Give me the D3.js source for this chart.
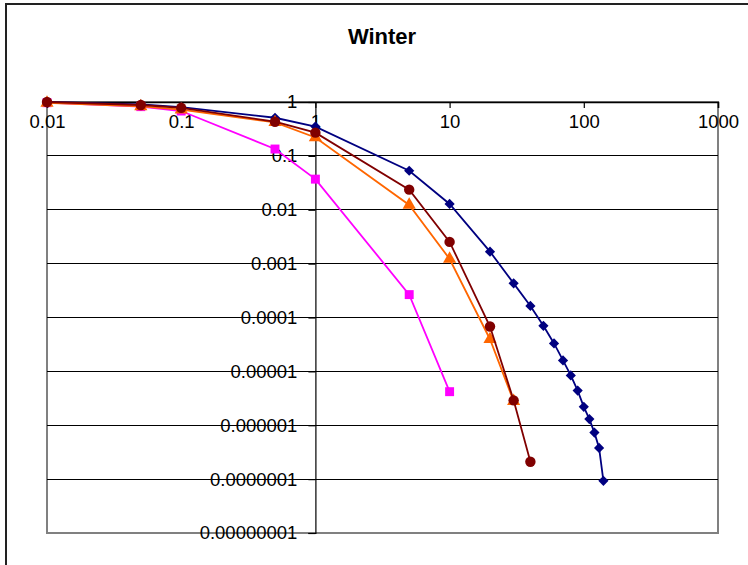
<!DOCTYPE html>
<html><head><meta charset="utf-8">
<script src="https://cdn.jsdelivr.net/npm/d3@7"></script>
<style>html,body{margin:0;padding:0;background:#fff;}svg{display:block;font-family:"Liberation Sans",Arial,sans-serif;}</style>
</head><body>
<svg id="c" width="748" height="565"></svg>
<script>
const title = "Winter";
const xTicks = [0.01, 0.1, 1, 10, 100, 1000];
const xTickLabels = ["0.01", "0.1", "1", "10", "100", "1000"];
const yTicks = [1, 0.1, 0.01, 0.001, 0.0001, 0.00001, 0.000001, 0.0000001, 0.00000001];
const yTickLabels = ["1", "0.1", "0.01", "0.001", "0.0001", "0.00001", "0.000001", "0.0000001", "0.00000001"];

const blueX = [0.01, 0.05, 0.1, 0.5, 1, 5, 10, 20, 30, 40, 50, 60, 70, 80, 90, 100, 110, 120, 130, 140];
const blueY = [1.0, 0.9, 0.8, 0.51, 0.35, 0.053, 0.0128, 0.00167, 0.00043, 0.000164, 0.00007, 0.000033, 0.000016, 0.0000084, 0.0000044, 0.0000022, 0.0000013, 0.00000073, 0.00000038, 0.000000093];
const pinkX = [0.01, 0.05, 0.1, 0.5, 1, 5, 10];
const pinkY = [0.97, 0.82, 0.68, 0.134, 0.037, 0.000266, 0.0000042];
const orangeX = [0.01, 0.05, 0.1, 0.5, 1, 5, 10, 20, 30];
const orangeY = [0.96, 0.83, 0.72, 0.42, 0.22, 0.0123, 0.00122, 0.0000395, 0.0000028];
const maroonX = [0.01, 0.05, 0.1, 0.5, 1, 5, 10, 20, 30, 40];
const maroonY = [1.0, 0.88, 0.78, 0.43, 0.27, 0.0236, 0.00253, 0.000068, 0.0000029, 0.00000021];

const svg = d3.select("#c");
const x = d3.scaleLog().domain([0.01, 1000]).range([47, 718]);
const y = d3.scaleLog().domain([1e-8, 1]).range([533, 102]);

// outer frame
svg.append("rect").attr("x", 6).attr("y", 4).attr("width", 780).attr("height", 620)
  .attr("fill", "#fff").attr("stroke", "#222").attr("stroke-width", 2);

// title
svg.append("text").attr("x", 382).attr("y", 44).attr("text-anchor", "middle")
  .attr("font-size", 22).attr("font-weight", "bold").text(title);

// plot area border
svg.append("rect").attr("x", x(0.01)).attr("y", y(1)).attr("width", x(1000) - x(0.01)).attr("height", y(1e-8) - y(1))
  .attr("fill", "none").attr("stroke", "#808080").attr("stroke-width", 2);

// gridlines
svg.append("g").selectAll("line").data(yTicks.slice(1, -1)).join("line")
  .attr("x1", x(0.01)).attr("x2", x(1000)).attr("y1", d => y(d)).attr("y2", d => y(d))
  .attr("stroke", "#000").attr("stroke-width", 1.2).attr("shape-rendering", "crispEdges");

// x axis at y=1 (ticks down)
const xAxis = d3.axisBottom(x).tickValues(xTicks).tickSize(6).tickPadding(7)
  .tickFormat((d, i) => xTickLabels[i]);
const gx = svg.append("g").attr("transform", `translate(0,${y(1)})`).call(xAxis);
gx.select(".domain").attr("stroke", "#000").attr("stroke-width", 1.5);
gx.selectAll(".tick line").attr("stroke", "#000").attr("stroke-width", 1.2);
gx.selectAll(".tick text").attr("font-size", 18.5).attr("font-family", "Liberation Sans, Arial, sans-serif").attr("fill", "#000");

// y axis at x=1 (ticks left)
const yAxis = d3.axisLeft(y).tickValues(yTicks).tickSize(7).tickPadding(11)
  .tickFormat((d, i) => yTickLabels[i]);
const gy = svg.append("g").attr("transform", `translate(${x(1)},0)`).call(yAxis);
gy.select(".domain").attr("stroke", "#000").attr("stroke-width", 1.2);
gy.selectAll(".tick line").attr("stroke", "#000").attr("stroke-width", 1.2);
gy.selectAll(".tick text").attr("font-size", 18.5).attr("font-family", "Liberation Sans, Arial, sans-serif").attr("fill", "#000");

const line = d3.line().x(d => x(d[0])).y(d => y(d[1]));
const series = [
  {xs: blueX, ys: blueY, color: "#000080", sym: d3.symbolSquare, size: 52, rot: 45},
  {xs: pinkX, ys: pinkY, color: "#FF00FF", sym: d3.symbolSquare, size: 80, rot: 0},
  {xs: orangeX, ys: orangeY, color: "#FF6600", sym: d3.symbolTriangle, size: 75, rot: 0},
  {xs: maroonX, ys: maroonY, color: "#800000", sym: d3.symbolCircle, size: 85, rot: 0}
];
series.forEach(s => {
  const pts = s.xs.map((v, i) => [v, s.ys[i]]);
  const g = svg.append("g");
  g.append("path").attr("d", line(pts)).attr("fill", "none").attr("stroke", s.color).attr("stroke-width", 1.8);
  g.selectAll("path.m").data(pts).join("path").attr("class", "m")
    .attr("transform", d => `translate(${x(d[0])},${y(d[1])}) rotate(${s.rot})`)
    .attr("d", d3.symbol().type(s.sym).size(s.size)).attr("fill", s.color);
});
</script>
</body></html>
